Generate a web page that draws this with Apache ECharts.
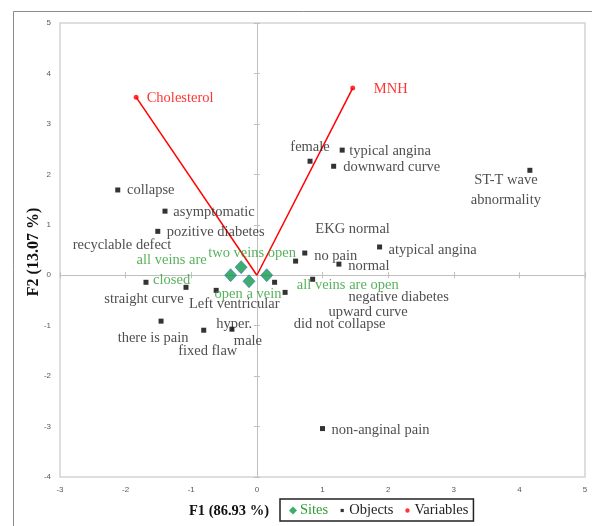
<!DOCTYPE html>
<html>
<head>
<meta charset="utf-8">
<script src="https://cdn.jsdelivr.net/npm/echarts@6/dist/echarts.min.js"></script>
<style>
  html, body { margin: 0; padding: 0; background: #fff; }
  #chart { width: 592px; height: 526px; }
</style>
</head>
<body>
<div id="chart"></div>
<script>
// ---------- DATA ----------
const xTickMin = -3, xTickMax = 5, xTickStep = 1;
const yTickMin = -4, yTickMax = 5, yTickStep = 1;

const siteNames = ['all veins are\nclosed', 'two veins open', 'open a vein', 'all veins are open'];
const siteF1 = [-0.40, -0.24, -0.12, 0.15];
const siteF2 = [0.00, 0.16, -0.12, 0.00];

const objectNames = [
  'collapse', 'asymptomatic', 'pozitive diabetes', 'recyclable defect',
  'straight curve', 'there is pain', 'fixed flaw', 'Left ventricular\nhyper.',
  'male', 'female', 'typical angina', 'downward curve',
  'ST-T wave\nabnormality', 'EKG normal', 'no pain', 'normal',
  'atypical angina', 'negative diabetes', 'upward curve', 'did not collapse',
  'non-anginal pain'
];
const objectF1 = [-2.12, -1.40, -1.51, -1.08, -1.69, -1.46, -0.81, -0.62, -0.38, 0.81, 1.30, 1.17, 4.16, 0.59, 0.73, 1.25, 1.87, 0.85, 0.43, 0.27, 1.00];
const objectF2 = [1.69, 1.27, 0.87, -0.24, -0.14, -0.91, -1.09, -0.30, -1.07, 2.26, 2.48, 2.16, 2.08, 0.28, 0.44, 0.22, 0.56, -0.08, -0.34, -0.14, -3.04];

const variableNames = ['Cholesterol', 'MNH'];
const variableF1 = [-1.84, 1.46];
const variableF2 = [3.53, 3.71];

const xTitle = 'F1 (86.93 %)';
const yTitle = 'F2 (13.07 %)';

// ---------- LAYOUT (label placement, pixels) ----------
const siteLabelOffsets = [[-59, -5], [11, -14], [-1, 13], [81, 10]];
const objectLabelOffsets = [
  [33, 0], [49, 1], [58, 1], [-64, -42],
  [-2, 17], [-8, 17], [4, 21], [18, 24],
  [16, 12], [0, -14], [48, 1], [58, 1],
  [-24, 20], [57, -32], [31, 3], [30, 2],
  [53, 3], [86, 18], [83, 20], [65, 42],
  [58, 2]
];
const variableLabelOffsets = [[44, 1], [38, 1]];

const SERIF = "'Liberation Serif', 'Times New Roman', serif";
const GREEN_TEXT = '#2e9e33';
const SITE_FILL = '#0f9a48';
const RED = '#ff0000';
const DARK = '#222222';
const FS = 14.5;

function pts(names, xs, ys, offs) {
  return names.map((n, i) => ({
    name: n,
    value: [xs[i], ys[i]],
    label: { offset: offs[i] }
  }));
}

const series = [];

// variable vectors from origin
variableNames.forEach((n, i) => {
  series.push({
    name: 'vec_' + n,
    type: 'line',
    data: [[0, 0], [variableF1[i], variableF2[i]]],
    showSymbol: false,
    symbol: 'none',
    lineStyle: { color: RED, width: 1.5 },
    silent: true,
    z: 3
  });
});

series.push({
  name: 'Sites',
  type: 'scatter',
  symbol: 'diamond',
  symbolSize: [12, 13],
  itemStyle: { color: SITE_FILL, borderColor: '#3a72c0', borderWidth: 0.8 },
  data: pts(siteNames, siteF1, siteF2, siteLabelOffsets),
  label: {
    show: true, position: 'inside', formatter: '{b}',
    color: GREEN_TEXT, fontFamily: SERIF, fontSize: FS, lineHeight: 20, align: 'center', verticalAlign: 'middle'
  },
  z: 5
});

series.push({
  name: 'Objects',
  type: 'scatter',
  symbol: 'rect',
  symbolSize: 5,
  itemStyle: { color: '#000' },
  data: pts(objectNames, objectF1, objectF2, objectLabelOffsets),
  label: {
    show: true, position: 'inside', formatter: '{b}',
    color: DARK, fontFamily: SERIF, fontSize: FS, lineHeight: 20, align: 'center', verticalAlign: 'middle'
  },
  z: 4
});

series.push({
  name: 'Variables',
  type: 'scatter',
  symbol: 'circle',
  symbolSize: 5,
  itemStyle: { color: RED },
  data: pts(variableNames, variableF1, variableF2, variableLabelOffsets),
  label: {
    show: true, position: 'inside', formatter: '{b}',
    color: RED, fontFamily: SERIF, fontSize: FS, align: 'center', verticalAlign: 'middle'
  },
  z: 6
});

const tickLabelStyle = { fontSize: 8, color: '#595959', fontFamily: "'Liberation Sans', Arial, sans-serif" };

const option = {
  animation: false,
  backgroundColor: '#fff',
  grid: {
    left: 60, top: 23, right: 7, bottom: 49,
    show: true, borderColor: '#d4d4d4', borderWidth: 1.5, backgroundColor: 'transparent'
  },
  xAxis: [
    {
      type: 'value', min: xTickMin, max: xTickMax, interval: xTickStep,
      axisLine: { show: false, onZero: false }, axisTick: { show: false },
      splitLine: { show: false },
      axisLabel: Object.assign({ margin: 9, showMinLabel: true, showMaxLabel: true }, tickLabelStyle)
    },
    {
      type: 'value', min: xTickMin, max: xTickMax, interval: xTickStep, position: 'bottom',
      axisLine: { show: true, onZero: true, lineStyle: { color: '#bfbfbf', width: 1 } },
      axisTick: { show: true, inside: true, length: 3, lineStyle: { color: '#bfbfbf' } },
      axisLabel: { show: false }, splitLine: { show: false }
    },
    {
      type: 'value', min: xTickMin, max: xTickMax, interval: xTickStep, position: 'bottom',
      axisLine: { show: false, onZero: true },
      axisTick: { show: true, inside: false, length: 3, lineStyle: { color: '#bfbfbf' } },
      axisLabel: { show: false }, splitLine: { show: false }
    }
  ],
  yAxis: [
    {
      type: 'value', min: yTickMin, max: yTickMax, interval: yTickStep,
      axisLine: { show: false, onZero: false }, axisTick: { show: false },
      splitLine: { show: false },
      axisLabel: Object.assign({ margin: 9, showMinLabel: true, showMaxLabel: true }, tickLabelStyle)
    },
    {
      type: 'value', min: yTickMin, max: yTickMax, interval: yTickStep, position: 'left',
      axisLine: { show: true, onZero: true, lineStyle: { color: '#bfbfbf', width: 1 } },
      axisTick: { show: true, inside: true, length: 3, lineStyle: { color: '#bfbfbf' } },
      axisLabel: { show: false }, splitLine: { show: false }
    },
    {
      type: 'value', min: yTickMin, max: yTickMax, interval: yTickStep, position: 'left',
      axisLine: { show: false, onZero: true },
      axisTick: { show: true, inside: false, length: 3, lineStyle: { color: '#bfbfbf' } },
      axisLabel: { show: false }, splitLine: { show: false }
    }
  ],
  legend: {
    left: 280, top: 499,
    orient: 'horizontal',
    borderColor: '#222', borderWidth: 1.5,
    padding: [4, 5, 3, 9],
    itemWidth: 8, itemHeight: 8, itemGap: 10,
    textStyle: { fontFamily: SERIF, fontSize: 14.5, color: DARK, padding: [0, 0, 0, -2] },
    data: [
      { name: 'Sites', icon: 'diamond', itemStyle: { color: SITE_FILL, borderWidth: 0 }, textStyle: { color: GREEN_TEXT } },
      { name: 'Objects', icon: 'path://M2.4,2.4L5.6,2.4L5.6,5.6L2.4,5.6ZM0,0L0,0M8,8L8,8', itemStyle: { color: '#000' } },
      { name: 'Variables', icon: 'path://M4,1.8A2.2,2.2,0,1,1,3.99,1.8ZM0,0L0,0M8,8L8,8', itemStyle: { color: RED } }
    ]
  },
  graphic: [
    {
      type: 'rect', silent: true, z: -1,
      shape: { x: 13.5, y: 11.5, width: 700, height: 700 },
      style: { fill: 'none', stroke: '#8c8c8c', lineWidth: 1 }
    },
    {
      type: 'text', x: 229, y: 511, silent: true,
      style: { text: xTitle, font: 'bold 14.5px ' + SERIF, fill: '#111', align: 'center', verticalAlign: 'middle' }
    },
    {
      type: 'text', x: 34, y: 252, rotation: Math.PI / 2, silent: true,
      style: { text: yTitle, font: 'bold 16px ' + SERIF, fill: '#111', align: 'center', verticalAlign: 'middle' }
    }
  ],
  series: series
};

const chart = echarts.init(document.getElementById('chart'), null, { renderer: 'canvas' });
chart.setOption(option);
</script>
</body>
</html>
